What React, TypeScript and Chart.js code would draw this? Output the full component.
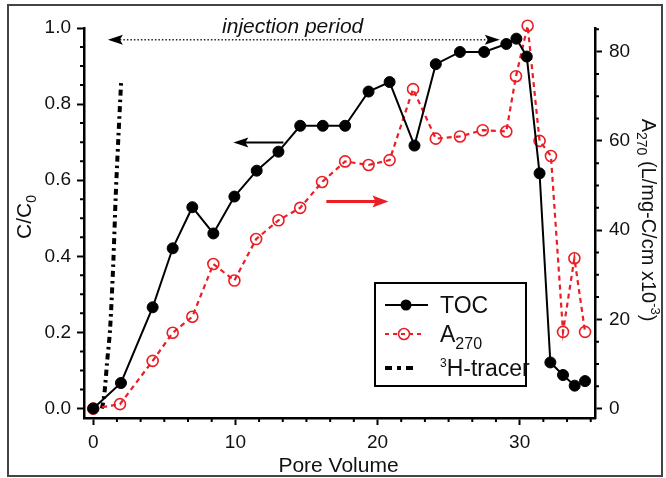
import React, { useEffect, useRef } from 'react';
import { Chart, registerables } from 'chart.js';

Chart.register(...registerables);

// ---------- data ----------
const tocPoreVolume = [0, 1.95, 4.18, 5.59, 6.97, 8.45, 9.93, 11.5, 13.03, 14.56, 16.15, 17.72, 19.37, 20.85, 22.6, 24.1, 25.8, 27.5, 29.06, 29.77, 30.5, 31.4, 32.16, 33.05, 33.87, 34.6];
const tocCC0 = [0, 0.067, 0.266, 0.421, 0.529, 0.46, 0.557, 0.625, 0.675, 0.743, 0.743, 0.743, 0.833, 0.858, 0.691, 0.905, 0.937, 0.937, 0.958, 0.972, 0.925, 0.618, 0.121, 0.088, 0.06, 0.072];

const a270PoreVolume = [0, 1.88, 4.18, 5.59, 6.97, 8.45, 9.93, 11.46, 13.03, 14.56, 16.1, 17.72, 19.37, 20.85, 22.5, 24.1, 25.8, 27.4, 29.06, 29.74, 30.56, 31.4, 32.2, 33.05, 33.85, 34.6];
const a270Values = [0, 1.0, 10.7, 17.0, 20.6, 32.4, 28.7, 38.0, 42.2, 45.0, 50.8, 55.4, 54.6, 55.7, 71.6, 60.5, 61.0, 62.4, 62.1, 74.5, 85.8, 60.0, 56.6, 17.2, 33.7, 17.2];

const tracerPoreVolume = [0.6, 0.72, 0.84, 0.97, 1.18, 1.41, 1.58, 1.76, 1.96];
const tracerCC0 = [0.0, 0.02, 0.06, 0.12, 0.206, 0.382, 0.557, 0.706, 0.857];

const xMajorTicks = [0, 10, 20, 30];
const yLeftMajorTicks = [0, 0.2, 0.4, 0.6, 0.8, 1.0];
const yRightMajorTicks = [0, 20, 40, 60, 80];

// annotation anchors (data units)
const injectionArrowFrom = 1.03;
const injectionArrowTo = 28.6;
const injectionArrowY = 0.969;
const injectionLabelX = 14.03;
const injectionLabelY = 1.006;
const blackArrowFrom = 13.38;
const blackArrowTo = 9.86;
const blackArrowY = 0.699;
const redArrowFrom = 16.4;
const redArrowTo = 20.77;
const redArrowY = 0.544;

const RED = 'rgb(234,30,36)';
const FONT = '"Liberation Sans", Arial, Helvetica, sans-serif';

type Part = { t: string; size: number; dy?: number; style?: string };

function partsWidth(ctx: CanvasRenderingContext2D, parts: Part[]) {
  let w = 0;
  for (const p of parts) {
    ctx.font = `${p.style || ''} ${p.size}px ${FONT}`;
    w += ctx.measureText(p.t).width;
  }
  return w;
}

function drawParts(ctx: CanvasRenderingContext2D, parts: Part[], x: number, y: number, align: 'left' | 'center') {
  let cx = align === 'center' ? x - partsWidth(ctx, parts) / 2 : x;
  ctx.textAlign = 'left';
  ctx.textBaseline = 'alphabetic';
  for (const p of parts) {
    ctx.font = `${p.style || ''} ${p.size}px ${FONT}`;
    ctx.fillText(p.t, cx, y + (p.dy || 0));
    cx += ctx.measureText(p.t).width;
  }
}

function arrowHead(ctx: CanvasRenderingContext2D, tipX: number, tipY: number, dir: number, len: number, half: number, color: string) {
  ctx.save();
  ctx.fillStyle = color;
  ctx.beginPath();
  ctx.moveTo(tipX, tipY);
  ctx.lineTo(tipX - dir * len, tipY - half);
  ctx.lineTo(tipX - dir * len * 0.8, tipY);
  ctx.lineTo(tipX - dir * len, tipY + half);
  ctx.closePath();
  ctx.fill();
  ctx.restore();
}

const decorPlugin = {
  id: 'decor',
  afterDatasetsDraw(chart: any) {
    const ctx: CanvasRenderingContext2D = chart.ctx;
    const xs = chart.scales.x;
    const yl = chart.scales.y;
    ctx.save();
    // injection period double arrow
    const ax1 = xs.getPixelForValue(injectionArrowFrom);
    const ax2 = xs.getPixelForValue(injectionArrowTo);
    const ay = yl.getPixelForValue(injectionArrowY);
    ctx.strokeStyle = '#222';
    ctx.lineWidth = 1.5;
    ctx.setLineDash([1.5, 2]);
    ctx.beginPath();
    ctx.moveTo(ax1 + 12, ay);
    ctx.lineTo(ax2 - 12, ay);
    ctx.stroke();
    ctx.setLineDash([]);
    arrowHead(ctx, ax1, ay, -1, 15, 5, '#000');
    arrowHead(ctx, ax2, ay, 1, 15, 5, '#000');

    ctx.fillStyle = '#111';
    drawParts(ctx, [{ t: 'injection period', size: 21, style: 'italic' }], xs.getPixelForValue(injectionLabelX), yl.getPixelForValue(injectionLabelY) + 7, 'center');

    // black arrow (points to left axis)
    const b1 = xs.getPixelForValue(blackArrowFrom);
    const b2 = xs.getPixelForValue(blackArrowTo);
    const by = yl.getPixelForValue(blackArrowY);
    ctx.strokeStyle = '#000';
    ctx.lineWidth = 2;
    ctx.beginPath();
    ctx.moveTo(b1, by);
    ctx.lineTo(b2 + 10, by);
    ctx.stroke();
    arrowHead(ctx, b2, by, -1, 15, 5, '#000');

    // red arrow (points to right axis)
    const r1 = xs.getPixelForValue(redArrowFrom);
    const r2 = xs.getPixelForValue(redArrowTo);
    const ry = yl.getPixelForValue(redArrowY);
    ctx.strokeStyle = RED;
    ctx.lineWidth = 3;
    ctx.beginPath();
    ctx.moveTo(r1, ry);
    ctx.lineTo(r2 - 10, ry);
    ctx.stroke();
    arrowHead(ctx, r2, ry, 1, 16, 6, RED);
    ctx.restore();
  },
  afterDraw(chart: any) {
    const ctx: CanvasRenderingContext2D = chart.ctx;
    const { x: xs, y: yl, y2: yr } = chart.scales;
    const area = chart.chartArea;
    ctx.save();
    // minor ticks
    ctx.strokeStyle = '#000';
    ctx.lineWidth = 2;
    ctx.beginPath();
    for (let k = 0; k <= 21; k++) {
      if (k % 6 === 0) continue;
      const px = xs.getPixelForValue((k * 10) / 6);
      ctx.moveTo(px, area.bottom);
      ctx.lineTo(px, area.bottom + 4);
    }
    for (let k = 0; k <= 20; k++) {
      if (k % 4 === 0) continue;
      const py = yl.getPixelForValue(k * 0.05);
      ctx.moveTo(area.left, py);
      ctx.lineTo(area.left - 4, py);
    }
    for (let k = 0; k <= 17; k++) {
      if (k % 4 === 0) continue;
      const py = yr.getPixelForValue(k * 5);
      ctx.moveTo(area.right, py);
      ctx.lineTo(area.right + 4, py);
    }
    ctx.stroke();

    // axis titles
    ctx.fillStyle = '#111';
    drawParts(ctx, [{ t: 'Pore Volume', size: 21 }], (area.left + area.right) / 2 - 1, 472, 'center');

    ctx.save();
    ctx.translate(31, 217);
    ctx.rotate(-Math.PI / 2);
    drawParts(ctx, [{ t: 'C/C', size: 21 }, { t: '0', size: 14, dy: 5 }], 0, 0, 'center');
    ctx.restore();

    ctx.save();
    ctx.translate(642, 220);
    ctx.rotate(Math.PI / 2);
    drawParts(ctx, [
      { t: 'A', size: 20 },
      { t: '270', size: 14, dy: 5 },
      { t: ' (L/mg-C/cm x10', size: 20 },
      { t: '-3', size: 13, dy: -9 },
      { t: ')', size: 20 },
    ], 0, 0, 'center');
    ctx.restore();

    // legend
    const lx = 375, ly = 283, lw = 151, lh = 103;
    ctx.fillStyle = '#fff';
    ctx.fillRect(lx, ly, lw, lh);
    ctx.strokeStyle = '#000';
    ctx.lineWidth = 2;
    ctx.strokeRect(lx, ly, lw, lh);

    // TOC row
    let ry = 305;
    ctx.lineWidth = 2;
    ctx.beginPath();
    ctx.moveTo(385, ry);
    ctx.lineTo(428, ry);
    ctx.stroke();
    ctx.fillStyle = '#000';
    ctx.beginPath();
    ctx.arc(406, ry, 5.5, 0, Math.PI * 2);
    ctx.fill();
    ctx.fillStyle = '#111';
    drawParts(ctx, [{ t: 'TOC', size: 23 }], 440, ry + 8, 'left');

    // A270 row
    ry = 334;
    ctx.strokeStyle = RED;
    ctx.lineWidth = 2;
    ctx.setLineDash([4, 4]);
    ctx.beginPath();
    ctx.moveTo(385, ry);
    ctx.lineTo(425, ry);
    ctx.stroke();
    ctx.setLineDash([]);
    ctx.lineWidth = 1.6;
    ctx.beginPath();
    ctx.arc(404, ry, 5.5, 0, Math.PI * 2);
    ctx.stroke();
    ctx.fillStyle = '#111';
    drawParts(ctx, [{ t: 'A', size: 23 }, { t: '270', size: 16, dy: 7 }], 440, ry + 8, 'left');

    // tracer row
    ry = 368;
    ctx.strokeStyle = '#000';
    ctx.lineWidth = 4;
    ctx.setLineDash([7, 5, 4, 5]);
    ctx.beginPath();
    ctx.moveTo(385, ry);
    ctx.lineTo(417, ry);
    ctx.stroke();
    ctx.setLineDash([]);
    ctx.fillStyle = '#111';
    drawParts(ctx, [{ t: '3', size: 12, dy: -9 }, { t: 'H-tracer', size: 23 }], 440, ry + 8, 'left');

    // outer frame
    ctx.strokeStyle = '#444';
    ctx.lineWidth = 2;
    ctx.strokeRect(8, 5, 654, 471);
    ctx.restore();
  },
};

export default function App() {
  const canvasRef = useRef<HTMLCanvasElement | null>(null);

  useEffect(() => {
    const canvas = canvasRef.current;
    if (!canvas) return;
    Chart.defaults.font.family = FONT;
    Chart.defaults.color = '#111';

    const axisCommon = {
      grid: { drawOnChartArea: false, drawTicks: true, tickLength: 7, tickWidth: 2, tickColor: '#000' },
      border: { display: true, color: '#000', width: 2.5 },
    };

    const chart = new Chart(canvas, {
      type: 'line',
      data: {
        datasets: [
          {
            label: 'TOC',
            data: tocPoreVolume.map((x, i) => ({ x, y: tocCC0[i] })),
            yAxisID: 'y',
            borderColor: '#000',
            borderWidth: 2,
            pointRadius: 5.5,
            pointBackgroundColor: '#000',
            pointBorderColor: '#000',
            pointBorderWidth: 1,
            tension: 0,
            clip: false as any,
            order: 1,
          },
          {
            label: 'A270',
            data: a270PoreVolume.map((x, i) => ({ x, y: a270Values[i] })),
            yAxisID: 'y2',
            borderColor: RED,
            borderWidth: 2.2,
            borderDash: [5, 4],
            pointRadius: 5.5,
            pointBackgroundColor: 'rgba(0,0,0,0)',
            pointBorderColor: RED,
            pointBorderWidth: 1.6,
            tension: 0,
            clip: false as any,
            order: 2,
          },
          {
            label: '3H-tracer',
            data: tracerPoreVolume.map((x, i) => ({ x, y: tracerCC0[i] })),
            yAxisID: 'y',
            borderColor: '#000',
            borderWidth: 4,
            borderDash: [6, 4, 2.5, 4],
            pointRadius: 0,
            tension: 0.3,
            clip: false as any,
            order: 3,
          },
        ],
      },
      options: {
        responsive: false,
        animation: false,
        layout: { padding: { top: 28, left: 0, right: 0, bottom: 0 } },
        plugins: { legend: { display: false }, tooltip: { enabled: false }, title: { display: false } },
        scales: {
          x: {
            type: 'linear',
            position: 'bottom',
            min: -0.65,
            max: 35.3,
            afterBuildTicks: (s: any) => { s.ticks = xMajorTicks.map((v) => ({ value: v })); },
            afterFit: (s: any) => { s.height = 60; },
            ticks: { color: '#111', font: { size: 19 }, padding: 6, maxRotation: 0, callback: (v: any) => String(v) },
            ...axisCommon,
          },
          y: {
            type: 'linear',
            position: 'left',
            min: -0.025,
            max: 1.0,
            afterBuildTicks: (s: any) => { s.ticks = yLeftMajorTicks.map((v) => ({ value: v })); },
            afterFit: (s: any) => { s.width = 84; },
            ticks: { color: '#111', font: { size: 19 }, padding: 6, callback: (v: any) => Number(v).toFixed(1) },
            ...axisCommon,
          },
          y2: {
            type: 'linear',
            position: 'right',
            min: -2.1,
            max: 85.3,
            afterBuildTicks: (s: any) => { s.ticks = yRightMajorTicks.map((v) => ({ value: v })); },
            afterFit: (s: any) => { s.width = 71; },
            ticks: { color: '#111', font: { size: 19 }, padding: 7, callback: (v: any) => String(v) },
            ...axisCommon,
          },
        },
      } as any,
      plugins: [decorPlugin as any],
    });

    return () => { chart.destroy(); };
  }, []);

  return (
    <div style={{ position: 'absolute', left: 0, top: 0, width: 666, height: 478, background: '#fff' }}>
      <canvas ref={canvasRef} width={666} height={478} style={{ display: 'block' }} />
    </div>
  );
}
